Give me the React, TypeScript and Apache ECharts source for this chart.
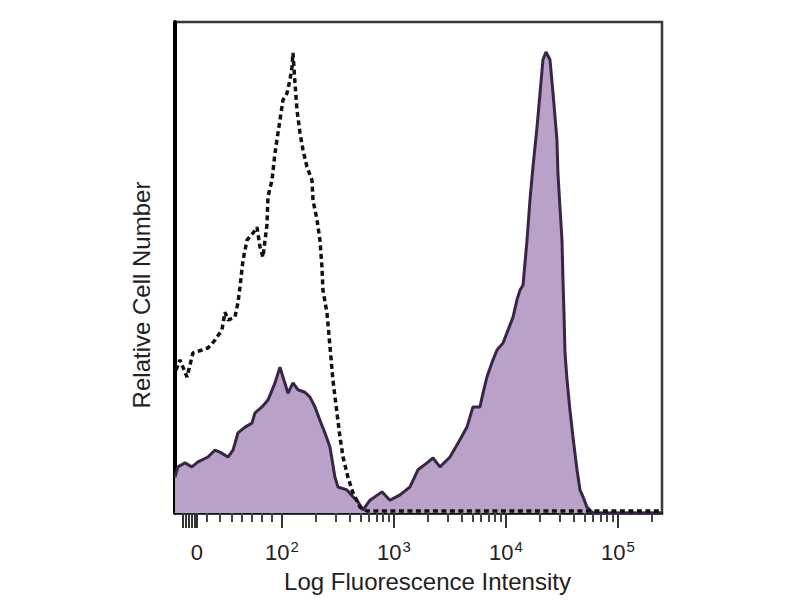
import React, { useEffect, useRef } from "react";
import * as echarts from "echarts";

// x positions are in display "decades" (2 = 10^2, 3 = 10^3, ...), y = relative cell number (% of axis height)
const filledX = [1.045,1.071,1.134,1.196,1.25,1.339,1.402,1.446,1.518,1.563,1.607,1.67,1.732,1.759,1.821,1.875,1.938,1.982,2.009,2.054,2.098,2.143,2.205,2.25,2.295,2.339,2.384,2.429,2.473,2.5,2.58,2.634,2.67,2.723,2.786,2.893,2.964,3.054,3.143,3.214,3.295,3.348,3.411,3.5,3.589,3.652,3.705,3.768,3.795,3.83,3.884,3.92,3.973,4.009,4.063,4.098,4.125,4.152,4.188,4.214,4.241,4.277,4.304,4.33,4.357,4.393,4.42,4.455,4.464,4.482,4.5,4.509,4.518,4.527,4.545,4.571,4.598,4.634,4.661,4.688,4.723,4.777,5.0,5.393];
const filledY = [7.3,9.4,10.2,9.4,10.4,11.4,12.8,12.4,11.4,12.8,16.3,17.5,18.3,20.4,21.6,23.0,26.5,29.7,27.7,24.4,26.5,25.1,24.6,23.6,21.6,18.9,16.3,13.4,7.3,5.3,4.7,3.3,2.6,0.6,2.6,4.3,2.6,3.7,5.3,8.8,10.2,11.2,9.4,11.4,14.9,17.5,21.6,21.6,24.4,27.7,31.2,33.2,34.6,36.7,39.9,43.4,45.4,46.4,55.6,63.7,70.5,78.6,85.5,92.3,93.9,92.3,85.5,76.0,69.2,62.3,55.6,47.5,40.7,32.6,27.1,21.0,15.5,8.8,4.7,3.3,1.2,0.0,0.0,0.0];

const dashedX = [1.054,1.089,1.152,1.205,1.286,1.339,1.402,1.464,1.491,1.518,1.58,1.607,1.625,1.652,1.688,1.741,1.777,1.804,1.83,1.866,1.875,1.911,1.938,1.955,1.982,2.009,2.045,2.071,2.089,2.098,2.116,2.134,2.161,2.188,2.223,2.268,2.277,2.313,2.339,2.357,2.366,2.402,2.429,2.455,2.491,2.518,2.545,2.589,2.634,2.696,2.759,3.0,3.5,4.0,4.5,5.0,5.393];
const dashedY = [29.1,31.2,27.7,32.6,33.2,33.6,35.2,37.3,40.9,39.3,39.9,42.8,46.0,51.5,55.6,57.0,58.2,54.2,52.1,58.7,64.4,67.8,73.3,76.0,80.0,84.1,85.5,88.2,90.8,93.7,87.6,82.1,77.4,73.9,70.5,67.8,63.7,59.7,55.6,50.1,45.4,40.7,33.8,27.1,20.4,15.5,11.4,7.3,4.1,1.2,0.4,0.4,0.4,0.4,0.4,0.4,0.4];

const X_MIN = 1.045;
const X_MAX = 5.393;
const ZERO_POS = 1.241;
const tickLabelPos = [ZERO_POS, 2, 3, 4, 5];
const tickBases = ["0", "10", "10", "10", "10"];
const tickExponents = ["", "2", "3", "4", "5"];
const majorTicks = [1.116, 1.143, 1.17, 1.196, 1.223, ZERO_POS, 2, 3, 4, 5];
const linearMinorTicks = [1.33, 1.446, 1.554, 1.643, 1.732, 1.821, 1.911];
const logMinorTicks: number[] = [];
[2, 3, 4, 5].forEach((d) => {
  for (let k = 2; k <= 9; k++) {
    const v = d + Math.log10(k);
    if (v <= X_MAX) logMinorTicks.push(Number(v.toFixed(3)));
  }
});
const minorTicks = [...linearMinorTicks, ...logMinorTicks];

const FONT = "'Liberation Sans', Arial, 'DejaVu Sans', sans-serif";

export default function App() {
  const ref = useRef<HTMLDivElement>(null);
  useEffect(() => {
    if (!ref.current) return;
    const chart = echarts.init(ref.current, null, { renderer: "svg" });
    const filled = filledX.map((x, i) => [x, filledY[i]]);
    const dashed = dashedX.map((x, i) => [x, dashedY[i]]);
    chart.setOption({
      animation: false,
      backgroundColor: "#ffffff",
      textStyle: { fontFamily: FONT },
      grid: {
        left: 175,
        top: 22,
        width: 487,
        height: 491,
        show: true,
        borderColor: "#383838",
        borderWidth: 2.5,
        backgroundColor: "transparent",
      },
      xAxis: [
        {
          type: "value",
          min: X_MIN,
          max: X_MAX,
          position: "bottom",
          axisLine: { show: true, onZero: false, lineStyle: { color: "#111", width: 2.5 } },
          splitLine: { show: false },
          axisTick: {
            show: true,
            customValues: majorTicks,
            length: 15,
            lineStyle: { color: "#333", width: 2 },
          },
          axisLabel: {
            customValues: tickLabelPos,
            margin: 26,
            color: "#222",
            fontFamily: FONT,
            formatter: (v: number) => {
              let best = 0;
              tickLabelPos.forEach((p, i) => {
                if (Math.abs(p - v) < Math.abs(tickLabelPos[best] - v)) best = i;
              });
              const e = tickExponents[best];
              return e ? `{b|${tickBases[best]}}{s|${e}}` : `{b|${tickBases[best]}}`;
            },
            rich: {
              b: { fontSize: 22, color: "#222", fontFamily: FONT, lineHeight: 26 },
              s: { fontSize: 15, color: "#222", fontFamily: FONT, verticalAlign: "top", lineHeight: 15, padding: [0, 0, 0, 1] },
            },
          },
          name: "Log Fluorescence Intensity",
          nameLocation: "middle",
          nameGap: 56,
          nameTextStyle: { fontSize: 24, color: "#222", fontFamily: FONT, padding: [0, 0, 0, 18] },
        },
        {
          type: "value",
          min: X_MIN,
          max: X_MAX,
          position: "bottom",
          axisLine: { show: false },
          splitLine: { show: false },
          axisLabel: { show: false },
          axisTick: {
            show: true,
            customValues: minorTicks,
            length: 9,
            lineStyle: { color: "#444", width: 2 },
          },
        },
      ],
      yAxis: {
        type: "value",
        min: 0,
        max: 100,
        axisLine: { show: true, lineStyle: { color: "#000", width: 4 } },
        axisTick: { show: false },
        axisLabel: { show: false },
        splitLine: { show: false },
      },
      graphic: [
        {
          type: "text",
          x: 141,
          y: 295,
          rotation: Math.PI / 2,
          style: {
            text: "Relative Cell Number",
            fontSize: 24,
            fontFamily: FONT,
            fill: "#222",
            align: "center",
            verticalAlign: "middle",
          },
        },
      ],
      series: [
        {
          type: "line",
          xAxisIndex: 0,
          data: filled,
          showSymbol: false,
          smooth: false,
          lineStyle: { color: "#3b2547", width: 3 },
          areaStyle: { color: "#b9a1c7", opacity: 1 },
          z: 2,
        },
        {
          type: "line",
          xAxisIndex: 0,
          data: dashed,
          showSymbol: false,
          smooth: false,
          lineStyle: { color: "#111", width: 3.5, type: [5, 3.5] },
          z: 3,
        },
      ],
    });
    return () => chart.dispose();
  }, []);
  return (
    <div
      ref={ref}
      style={{ position: "fixed", left: 0, top: 0, width: 800, height: 600, background: "#fff" }}
    />
  );
}
